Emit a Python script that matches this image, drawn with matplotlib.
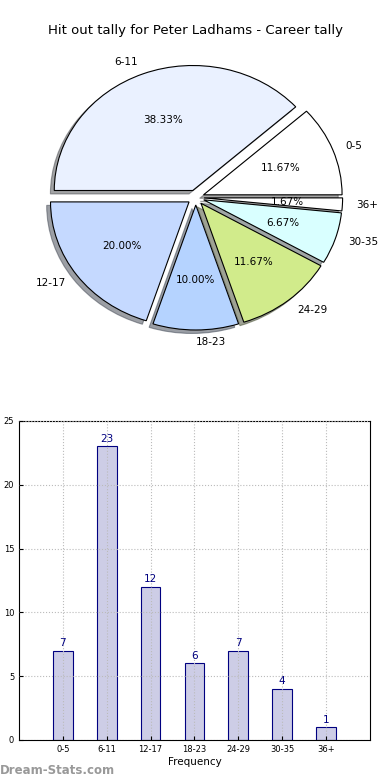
import matplotlib
matplotlib.use('Agg')
import matplotlib.pyplot as plt

# hit out tally buckets and number of games in each
buckets = ['0-5', '6-11', '12-17', '18-23', '24-29', '30-35', '36+']
games = [7, 23, 12, 6, 7, 4, 1]
slice_colors = ['#ffffff', '#eaf1ff', '#c5d9ff', '#b5d3ff', '#d1eb8b', '#d9ffff', '#ffffff']

title = 'Hit out tally for Peter Ladhams - Career tally'

fig = plt.figure(figsize=(3.9, 7.8), dpi=100)

# pie chart (old style, not forced round)
ax_pie = fig.add_axes([0.058, 0.5465, 0.888, 0.4006])
ax_pie.pie(games,
           labels=buckets,
           colors=slice_colors,
           autopct='%1.2f%%',
           explode=[0.06] * len(games),
           shadow=True,
           labeldistance=1.1,
           wedgeprops={'edgecolor': 'black', 'linewidth': 0.8},
           textprops={'fontsize': 7.5})
ax_pie.set_aspect('auto')
ax_pie.set_xlim(-1.25, 1.25)
ax_pie.set_ylim(-1.25, 1.25)
ax_pie.axis('off')
fig.text(0.5, 0.961, title, ha='center', va='center', fontsize=9.5)

# bar chart
ax_bar = fig.add_axes([0.0487, 0.0513, 0.9, 0.409])
xpos = list(range(len(buckets)))
bars = ax_bar.bar(xpos, games, width=0.45, color='#cdcde6', edgecolor='#000080', linewidth=0.8)
for b, v in zip(bars, games):
    ax_bar.text(b.get_x() + b.get_width() / 2, v + 0.2, str(v),
                ha='center', va='bottom', color='#000080', fontsize=7.5)
ax_bar.set_xlim(-1, 7)
ax_bar.set_ylim(0, 25)
ax_bar.set_xticks(xpos)
ax_bar.set_xticklabels(buckets)
ax_bar.set_yticks([0, 5, 10, 15, 20, 25])
ax_bar.tick_params(labelsize=6, direction='in', length=3)
ax_bar.grid(True, color='#bbbbbb', linestyle=':', linewidth=0.8)
ax_bar.set_axisbelow(False)
ax_bar.set_xlabel('Frequency', fontsize=7.5, labelpad=2)
ax_bar.set_ylabel('Number of Games', fontsize=7.5)
ax_bar.yaxis.set_label_coords(-0.052, 0.5)

fig.text(0.0, 0.012, 'Dream-Stats.com', fontsize=8.5, color='#999999',
         fontweight='bold', ha='left', va='center')

fig.savefig('out.png', dpi=100)
plt.close()
